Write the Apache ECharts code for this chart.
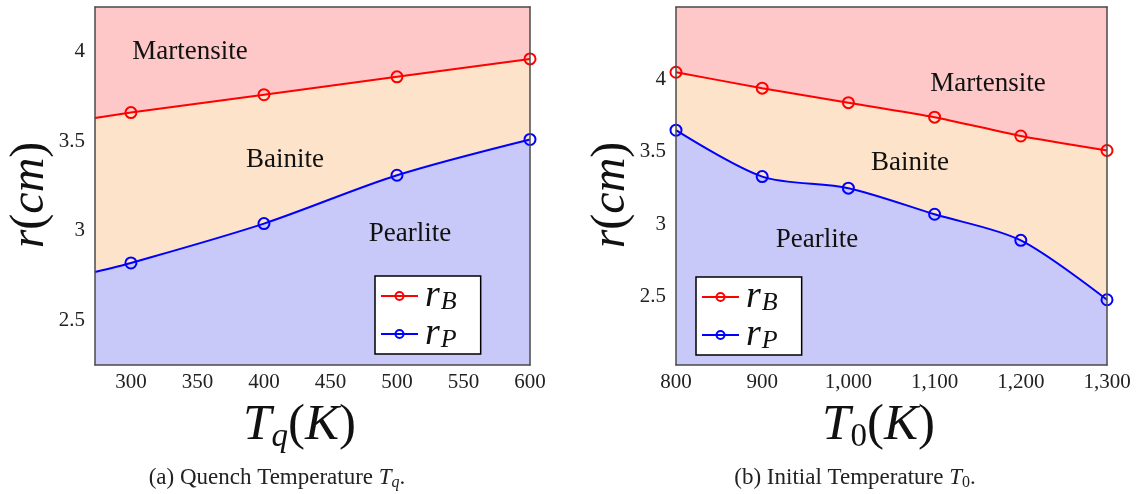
<!DOCTYPE html>
<html>
<head>
<meta charset="utf-8">
<script src="https://cdn.jsdelivr.net/npm/echarts@6/dist/echarts.min.js"></script>
<style>
  html, body { margin: 0; padding: 0; background: #fff; }
  #main { width: 1137px; height: 494px; }
</style>
</head>
<body>
<div id="main"></div>
<script>
// (a) quench temperature
var tqX = [273, 300, 400, 500, 600]
var tqRB = [3.63, 3.66, 3.76, 3.86, 3.96]
var tqRP = [2.77, 2.82, 3.04, 3.31, 3.51]
var tqTicks = [300, 350, 400, 450, 500, 550, 600]

// (b) initial temperature
var t0X = [800, 900, 1000, 1100, 1200, 1300]
var t0RB = [4.05, 3.94, 3.84, 3.74, 3.61, 3.51]
var t0RP = [3.65, 3.33, 3.25, 3.07, 2.89, 2.48]

var yTicks = [2.5, 3, 3.5, 4]

var serif = 'Liberation Serif'
var pink = '#ffc8c8', peach = '#fde3c9', lavender = '#c9c9f9'
var frame = { show: true, lineStyle: { color: '#4a4a4a', width: 1.5 } }

function pairs(xs, ys) {
    return xs.map(function (x, i) {
        var item = { value: [x, ys[i]] }
        // the left plot's first point only carries the curve to the frame
        if (x === 273) item.symbol = 'none'
        return item
    })
}

function lineSeries(name, color, fill, gi, xs, ys, smooth) {
    return {
        name: name,
        type: 'line',
        xAxisIndex: gi * 2,
        yAxisIndex: gi * 2,
        data: pairs(xs, ys),
        smooth: smooth,
        symbol: 'circle',
        symbolSize: 11,
        showAllSymbol: true,
        lineStyle: { color: color, width: 2 },
        itemStyle: { color: 'rgba(0,0,0,0)', borderColor: color, borderWidth: 2 },
        areaStyle: { color: fill, opacity: 1, origin: 'start' },
        emphasis: { disabled: true },
        z: 3
    }
}

var tickLabel = { fontFamily: serif, fontSize: 21, color: '#222' }

function xName(sub) {
    return {
        name: '{t|T}{s|' + sub + '}{p|(}{t|K}{p|)}',
        nameLocation: 'middle',
        nameGap: 32,
        nameTextStyle: {
            padding: [0, 26, 0, 0],
            rich: {
                t: { fontFamily: serif, fontStyle: 'italic', fontSize: 51, color: '#111' },
                p: { fontFamily: serif, fontSize: 51, color: '#111' },
                s: { fontFamily: serif, fontStyle: sub === 'q' ? 'italic' : 'normal', fontSize: 33, color: '#111', verticalAlign: 'bottom', padding: [24, 0, 0, 0] }
            }
        }
    }
}

var yName = {
    name: '{t|r}{p|(}{t|cm}{p|)}',
    nameLocation: 'middle',
    nameGap: 36,
    nameTextStyle: {
        padding: [0, 18, 0, 0],
        rich: {
            t: { fontFamily: serif, fontStyle: 'italic', fontSize: 48, color: '#111' },
            p: { fontFamily: serif, fontSize: 48, color: '#111' }
        }
    }
}

function axisBase() {
    return {
        axisLine: frame,
        axisTick: { show: false },
        splitLine: { show: false },
        z: 6
    }
}

// top / right axes only draw the rest of the frame
function frameX(gi, min, max) {
    return { type: 'value', gridIndex: gi, position: 'top', min: min, max: max, axisLine: frame, axisTick: { show: false }, axisLabel: { show: false }, splitLine: { show: false }, z: 6 }
}
function frameY(gi, min, max) {
    return { type: 'value', gridIndex: gi, position: 'right', min: min, max: max, axisLine: frame, axisTick: { show: false }, axisLabel: { show: false }, splitLine: { show: false }, z: 6 }
}

var legendRich = {
    r: { fontFamily: serif, fontStyle: 'italic', fontSize: 38, color: '#111', lineHeight: 30 },
    s: { fontFamily: serif, fontStyle: 'italic', fontSize: 26, color: '#111', verticalAlign: 'bottom', padding: [12, 0, 0, 1] }
}

function legendAt(left, top) {
    return {
        left: left, top: top,
        orient: 'vertical',
        backgroundColor: '#fff',
        borderColor: '#000',
        borderWidth: 1.5,
        borderRadius: 0,
        padding: [1, 24, 1, 5],
        itemGap: 0,
        itemWidth: 37,
        itemHeight: 10,
        selectedMode: false,
        z: 8,
        data: ['rB', 'rP'],
        formatter: function (n) { return '{r|r}{s|' + n.charAt(1) + '}' },
        textStyle: { rich: legendRich, padding: [0, 0, 0, 2] }
    }
}

function regionText(x, y, s) {
    return {
        type: 'text', x: x, y: y,
        style: { text: s, font: '27px "Liberation Serif"', fill: '#111', align: 'center', verticalAlign: 'middle' },
        z: 10
    }
}

function caption(x, y, label, sub, italicSub) {
    return {
        type: 'text', x: x, y: y,
        style: {
            text: '{n|' + label + '}{t|T}{s|' + sub + '}{n|.}',
            align: 'center', verticalAlign: 'middle',
            rich: {
                n: { fontFamily: serif, fontSize: 23, fill: '#222' },
                t: { fontFamily: serif, fontStyle: 'italic', fontSize: 23, fill: '#222' },
                s: { fontFamily: serif, fontStyle: italicSub ? 'italic' : 'normal', fontSize: 16, fill: '#222', verticalAlign: 'bottom', padding: [9, 0, 0, 0] }
            }
        }
    }
}

var option = {
    animation: false,
    grid: [
        { left: 95, right: 607, top: 7, bottom: 129, show: true, backgroundColor: pink, borderWidth: 0 },
        { left: 676, right: 30, top: 7, bottom: 129, show: true, backgroundColor: pink, borderWidth: 0 }
    ],
    xAxis: [
        Object.assign(axisBase(), xName('q'), {
            type: 'value', gridIndex: 0, min: 273, max: 600,
            axisLabel: Object.assign({ customValues: tqTicks, margin: 7 }, tickLabel)
        }),
        frameX(0, 273, 600),
        Object.assign(axisBase(), xName('0'), {
            type: 'value', gridIndex: 1, min: 800, max: 1300, interval: 100,
            axisLabel: Object.assign({
                margin: 7,
                formatter: function (v) { return v.toLocaleString('en-US') }
            }, tickLabel)
        }),
        frameX(1, 800, 1300)
    ],
    yAxis: [
        Object.assign(axisBase(), yName, {
            type: 'value', gridIndex: 0, min: 2.25, max: 4.25,
            axisLabel: Object.assign({ customValues: yTicks, margin: 10 }, tickLabel)
        }),
        frameY(0, 2.25, 4.25),
        Object.assign(axisBase(), yName, {
            type: 'value', gridIndex: 1, min: 2.03, max: 4.5,
            axisLabel: Object.assign({ customValues: yTicks, margin: 10 }, tickLabel)
        }),
        frameY(1, 2.03, 4.5)
    ],
    legend: [legendAt(375, 276), legendAt(696, 277)],
    series: [
        lineSeries('rB', '#ff0000', peach, 0, tqX, tqRB, false),
        lineSeries('rP', '#0000ff', lavender, 0, tqX, tqRP, 0.3),
        lineSeries('rB', '#ff0000', peach, 1, t0X, t0RB, 0.2),
        lineSeries('rP', '#0000ff', lavender, 1, t0X, t0RP, 0.3)
    ],
    graphic: [
        regionText(190, 52, 'Martensite'),
        regionText(285, 160, 'Bainite'),
        regionText(410, 234, 'Pearlite'),
        regionText(988, 84, 'Martensite'),
        regionText(910, 163, 'Bainite'),
        regionText(817, 240, 'Pearlite'),
        caption(277, 478, '(a) Quench Temperature ', 'q', true),
        caption(855, 478, '(b) Initial Temperature ', '0', false)
    ]
}

var chart = echarts.init(document.getElementById('main'))
chart.setOption(option)
</script>
</body>
</html>
